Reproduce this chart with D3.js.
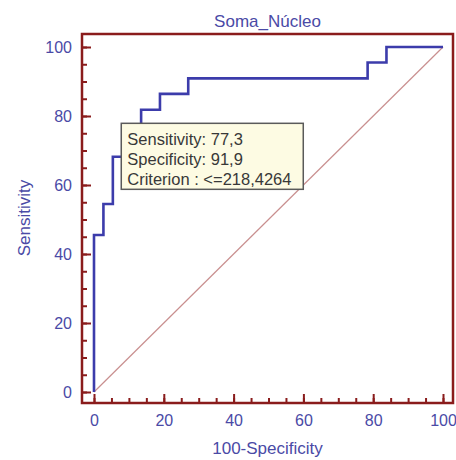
<!DOCTYPE html>
<html>
<head>
<meta charset="utf-8">
<script src="https://cdn.jsdelivr.net/npm/d3@7"></script>
<style>
  body { margin: 0; background: #fff; }
  text { font-family: "Liberation Sans", Arial, sans-serif; }
</style>
</head>
<body>
<div id="roc"></div>
<script>
// ROC curve points (100-Specificity, Sensitivity)
var fpr  = [0, 0, 2.7, 2.7, 5.4, 5.4, 8.1, 8.1, 13.5, 13.5, 18.9, 18.9, 27.0, 27.0, 78.4, 78.4, 83.8, 83.8, 100];
var sens = [0, 45.5, 45.5, 54.5, 54.5, 68.2, 68.2, 77.3, 77.3, 81.8, 81.8, 86.4, 86.4, 90.9, 90.9, 95.5, 95.5, 100, 100];
var majorTicks = [0, 20, 40, 60, 80, 100];
var minorTicks = d3.range(0, 101, 5);
var tipLines = ["Sensitivity: 77,3", "Specificity: 91,9", "Criterion : <=218,4264"];
var tipPoint = [8.1, 77.3];

var W = 456, H = 460,
    frame = {left: 82, top: 34, right: 453, bottom: 403},
    labelColor = "#4a4aa6",
    frameColor = "#8a1c1c";

var x = d3.scaleLinear().domain([0, 100]).range([94, 443]);
var y = d3.scaleLinear().domain([0, 100]).range([392, 47]);

var svg = d3.select("#roc").append("svg")
    .attr("width", W)
    .attr("height", H);

// title
svg.append("text")
    .attr("x", (frame.left + frame.right) / 2)
    .attr("y", 27)
    .attr("text-anchor", "middle")
    .style("font-size", "17px")
    .style("fill", labelColor)
    .text("Soma_Núcleo");

// diagonal reference line
svg.append("line")
    .attr("x1", x(0)).attr("y1", y(0))
    .attr("x2", x(100)).attr("y2", y(100))
    .style("stroke", "#c98f8f")
    .style("stroke-width", 1.2);

// roc curve
var pts = fpr.map(function(d, i) { return [d, sens[i]]; });
svg.append("path")
    .datum(pts)
    .attr("d", d3.line().x(function(d) { return x(d[0]); }).y(function(d) { return y(d[1]); }))
    .style("fill", "none")
    .style("stroke", "#3c3cab")
    .style("stroke-width", 2.6);

// axes: ticks point inward from the frame
var yMinor = d3.axisLeft(y).tickValues(minorTicks).tickSize(-5).tickFormat("");
var yMajor = d3.axisLeft(y).tickValues(majorTicks).tickSize(-9).tickPadding(10);
var xMinor = d3.axisBottom(x).tickValues(minorTicks).tickSize(-5).tickFormat("");
var xMajor = d3.axisBottom(x).tickValues(majorTicks).tickSize(-9).tickPadding(12);

[yMinor, yMajor].forEach(function(a) {
  svg.append("g").attr("class", "axis")
    .attr("transform", "translate(" + frame.left + ",0)")
    .call(a);
});
[xMinor, xMajor].forEach(function(a) {
  svg.append("g").attr("class", "axis")
    .attr("transform", "translate(0," + frame.bottom + ")")
    .call(a);
});
svg.selectAll(".axis .domain").remove();
svg.selectAll(".axis line").style("stroke", frameColor).style("stroke-width", 2);
svg.selectAll(".axis text")
    .style("font-size", "16px")
    .style("fill", labelColor)
    .style("font-family", "'Liberation Sans', Arial, sans-serif");

// frame
svg.append("rect")
    .attr("x", frame.left).attr("y", frame.top)
    .attr("width", frame.right - frame.left)
    .attr("height", frame.bottom - frame.top)
    .style("fill", "none")
    .style("stroke", frameColor)
    .style("stroke-width", 2.5);

// axis titles
svg.append("text")
    .attr("x", (frame.left + frame.right) / 2)
    .attr("y", 454)
    .attr("text-anchor", "middle")
    .style("font-size", "17px")
    .style("fill", labelColor)
    .text("100-Specificity");

svg.append("text")
    .attr("transform", "translate(30,218) rotate(-90)")
    .attr("text-anchor", "middle")
    .style("font-size", "17px")
    .style("fill", labelColor)
    .text("Sensitivity");

// criterion box, its top-left corner sits on the criterion point
var tip = svg.append("g")
    .attr("transform", "translate(" + (x(tipPoint[0]) - 1) + "," + (y(tipPoint[1]) - 2) + ")");
tip.append("rect")
    .attr("width", 182)
    .attr("height", 66)
    .style("fill", "#fdfbe3")
    .style("stroke", "#5a5a5a")
    .style("stroke-width", 1.5);
tip.selectAll("text")
    .data(tipLines)
    .enter().append("text")
    .attr("x", 6)
    .attr("y", function(d, i) { return 22 + i * 20; })
    .style("font-size", "16.5px")
    .style("fill", "#383838")
    .text(function(d) { return d; });
</script>
</body>
</html>
